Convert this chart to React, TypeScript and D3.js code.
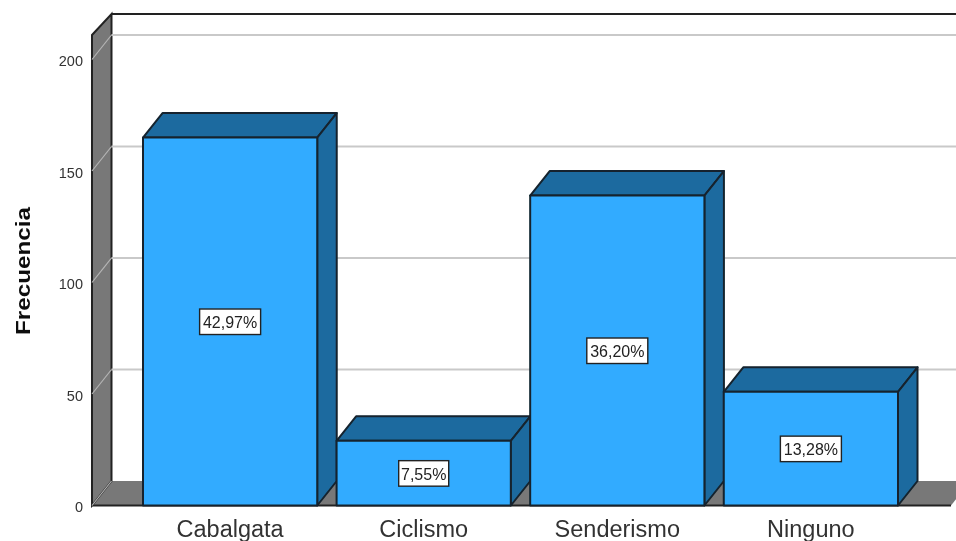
import React from "react";
import * as d3 from "d3";

const categories = ["Cabalgata", "Ciclismo", "Senderismo", "Ninguno"];
const counts = [165, 29, 139, 51];
const percentLabels = ["42,97%", "7,55%", "36,20%", "13,28%"];
const yTicks = [0, 50, 100, 150, 200];

const W = 956, H = 541;
const DX = 19.5, DY = -24.5;
const FONT = "'Liberation Sans', Arial, sans-serif";

const y = d3.scaleLinear().domain([0, 200]).range([505.5, 59.5]);
const x = d3.scaleBand<string>().domain(categories).range([143, 898]).paddingInner(0.1).paddingOuter(0);

const DARK = "#1f6b9f", FRONT = "#31abff", WALL = "#787878", EDGE = "#13242e", GRID = "#c9c9c9";
const poly = (p: number[][]) => d3.line()(p as [number, number][]) + "Z";

export default function App() {
  const x0 = 92, xBack = x0 + DX, y0 = y(0);
  const yFrontTop = y(211), yBackTop = 14, xFloorEnd = 951;
  const bw = x.bandwidth();
  return (
    <svg width={W} height={H} viewBox={`0 0 ${W} ${H}`} style={{ position: "fixed", left: 0, top: 0, background: "#fff" }}>
      <defs>
        <filter id="soft" filterUnits="userSpaceOnUse" x="0" y="0" width={W} height={H}><feGaussianBlur stdDeviation="0.7" /></filter>
      </defs>
      <g filter="url(#soft)">
        <path d={poly([[x0, y0], [xFloorEnd, y0], [xFloorEnd + DX, y0 + DY], [xBack, y0 + DY]])} fill={WALL} />
        <path d={`M${x0},${y0}H${xFloorEnd}`} stroke="#222" strokeWidth={2} fill="none" />
        <path d={poly([[x0, y0], [xBack, y0 + DY], [xBack, yBackTop], [x0, yFrontTop]])} fill={WALL} stroke="#222" strokeWidth={2} />
        <path d={`M${xBack},${yBackTop}H${W}`} stroke="#222" strokeWidth={2} fill="none" />
        {yTicks.map((t) => (
          <g key={t}>
            {t > 0 && <path d={`M${xBack},${y(t) + DY}H${W}`} stroke={GRID} strokeWidth={1.8} fill="none" />}
            <path d={`M${x0},${y(t)}L${xBack},${y(t) + DY}`} stroke="#b5b5b5" strokeWidth={1.2} fill="none" />
            <text x={83} y={y(t) + 1.5} dy="0.36em" textAnchor="end" fontFamily={FONT} fontSize={14.5} fill="#333">{t}</text>
          </g>
        ))}
        {categories.map((c, i) => {
          const l = x(c)!, r = l + bw, t = y(counts[i]), b = y0;
          return (
            <g key={c} stroke={EDGE} strokeWidth={2} strokeLinejoin="round">
              <path d={poly([[l, t], [l + DX, t + DY], [r + DX, t + DY], [r, t]])} fill={DARK} />
              <path d={poly([[r, t], [r + DX, t + DY], [r + DX, b + DY], [r, b]])} fill={DARK} />
              <rect x={l} y={t} width={bw} height={b - t} fill={FRONT} />
            </g>
          );
        })}
        {categories.map((c, i) => {
          const cx = x(c)! + bw / 2, cy = y(counts[i] / 2);
          const w = percentLabels[i].length === 6 ? 61 : 50;
          return (
            <g key={c}>
              <rect x={cx - w / 2} y={cy - 12.5} width={w} height={25.5} fill="#fff" stroke="#222" strokeWidth={1.4} />
              <text x={cx} y={cy + 1} dy="0.36em" textAnchor="middle" fontFamily={FONT} fontSize={16} fill="#222">{percentLabels[i]}</text>
              <text x={cx} y={537} textAnchor="middle" fontFamily={FONT} fontSize={23.5} fill="#333">{c}</text>
            </g>
          );
        })}
        <text transform="translate(30,271) rotate(-90)" textAnchor="middle" textLength={128} lengthAdjust="spacingAndGlyphs" fontFamily={FONT} fontSize={20} fontWeight="bold" fill="#111">Frecuencia</text>
      </g>
    </svg>
  );
}
